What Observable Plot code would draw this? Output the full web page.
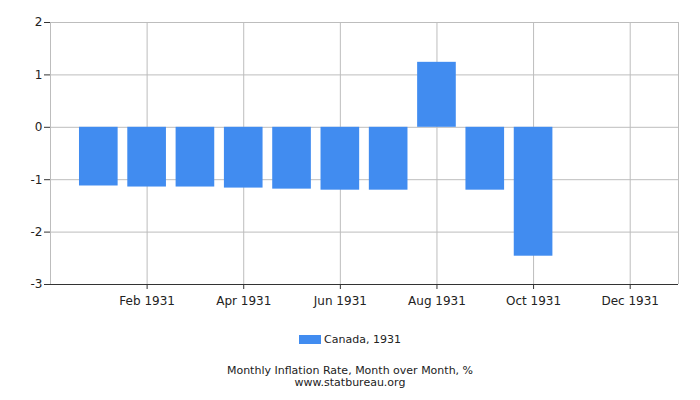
<!DOCTYPE html>
<html>
<head>
<meta charset="utf-8">
<script src="https://cdn.jsdelivr.net/npm/d3@7"></script>
<script src="https://cdn.jsdelivr.net/npm/@observablehq/plot@0.6"></script>
<style>
  body { margin: 0; background: #fff; font-family: "DejaVu Sans", sans-serif; }
  #wrap { position: relative; width: 700px; height: 400px; overflow: hidden; }
  #chart { position: absolute; left: 0; top: 0; }
  #legend { position: absolute; left: 0; top: 333px; width: 700px; text-align: center; font-size: 11px; color: #222; }
  #legend .sw { display: inline-block; width: 22px; height: 9px; vertical-align: -0.5px; margin-right: 3px; }
  #caption { position: absolute; left: 0; top: 365px; width: 700px; text-align: center; font-size: 11px; line-height: 12px; color: #222; }
</style>
</head>
<body>
<div id="wrap">
  <div id="chart"></div>
  <div id="legend"></div>
  <div id="caption"></div>
</div>
<script>
const months = ["Jan 1931","Feb 1931","Mar 1931","Apr 1931","May 1931","Jun 1931",
                "Jul 1931","Aug 1931","Sep 1931","Oct 1931","Nov 1931","Dec 1931"];
const values = [-1.12, -1.14, -1.14, -1.16, -1.18, -1.20, -1.20, 1.24, -1.20, -2.46, null, null];
const seriesName = "Canada, 1931";
const barColor = "#418cf0";
const xTickMonths = ["Feb 1931","Apr 1931","Jun 1931","Aug 1931","Oct 1931","Dec 1931"];
const yTicks = [-3, -2, -1, 0, 1, 2];
const captionLines = ["Monthly Inflation Rate, Month over Month, %", "www.statbureau.org"];

const rows = months.map((m, i) => ({month: m, idx: i + 1, value: values[i]}))
                   .filter(d => d.value != null);
const xTickIdx = xTickMonths.map(m => months.indexOf(m) + 1);
const xEnd = months.length + 1;

const chart = Plot.plot({
  width: 700,
  height: 310,
  marginLeft: 50,
  marginRight: 22,
  marginTop: 22,
  marginBottom: 26,
  style: {fontFamily: "DejaVu Sans, sans-serif", fontSize: "12px", color: "#222", background: "#fff"},
  x: {type: "linear", domain: [0, xEnd], axis: null},
  y: {domain: [yTicks[0], yTicks[yTicks.length - 1]], axis: null},
  marks: [
    Plot.ruleY(yTicks.slice(1), {stroke: "#bdbdbd", strokeWidth: 1}),
    Plot.ruleX(xTickIdx.concat([xEnd]), {stroke: "#bdbdbd", strokeWidth: 1}),
    Plot.ruleX([0], {stroke: "#bdbdbd", strokeWidth: 1}),
    Plot.rectY(rows, {x1: d => d.idx - 0.4, x2: d => d.idx + 0.4, y1: 0, y2: "value", fill: barColor}),
    Plot.ruleY([yTicks[0]], {stroke: "#333", strokeWidth: 1}),
    Plot.axisY({ticks: yTicks, tickSize: 6, tickPadding: 2, stroke: "#333", fontSize: 12, label: null, tickFormat: d => String(d)}),
    Plot.axisX({ticks: xTickIdx, tickSize: 5, tickPadding: 7, stroke: "#333", fontSize: 12, label: null, tickFormat: d => months[d - 1]})
  ]
});
document.getElementById("chart").appendChild(chart);

document.getElementById("legend").innerHTML =
  `<span class="sw" style="background:${barColor}"></span>${seriesName}`;
document.getElementById("caption").innerHTML = captionLines.join("<br>");
</script>
</body>
</html>
